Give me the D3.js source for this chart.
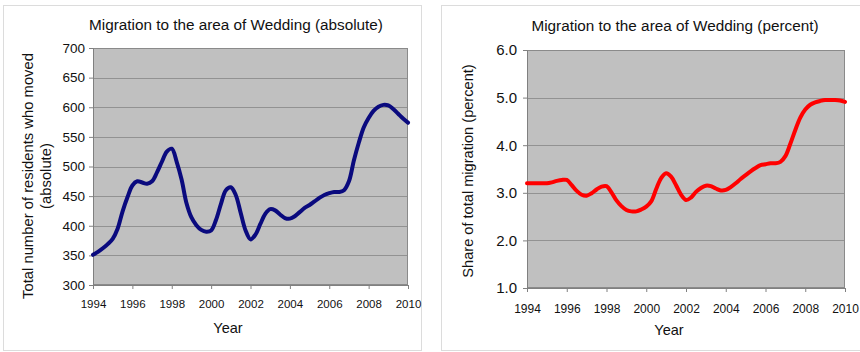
<!DOCTYPE html>
<html>
<head>
<meta charset="utf-8">
<script src="https://cdn.jsdelivr.net/npm/d3@7/dist/d3.min.js"></script>
<style>
  html, body { margin: 0; padding: 0; background: #fff; }
  svg { display: block; font-family: "Liberation Sans", Arial, sans-serif; }
</style>
</head>
<body>
<svg id="chart" width="860" height="352"></svg>
<script>
// Quarter-year sample points, 1994 to 2010
const years = d3.range(0, 65).map(i => 1994 + i * 0.25);

// Number of residents who moved into Wedding (absolute)
const movedAbsolute = [
  351, 356, 362, 369, 378, 395, 424, 448,
  468, 475, 473, 471, 475, 490, 508, 525,
  530, 508, 478, 438, 414, 401, 393, 390,
  392, 410, 437, 460, 465, 452, 422, 392,
  377, 385, 403, 420, 428, 426, 419, 413,
  412, 416, 423, 430, 435, 441, 447, 452,
  455, 457, 457, 460, 475, 510, 540, 566,
  582, 594, 601, 604, 603, 597, 589, 581,
  574
];

// Share of total migration (percent)
const movedPercent = [
  3.20, 3.20, 3.20, 3.20, 3.20, 3.22, 3.25, 3.27,
  3.27, 3.16, 3.04, 2.96, 2.94, 2.99, 3.07, 3.13,
  3.14, 3.01, 2.84, 2.72, 2.64, 2.61, 2.61, 2.65,
  2.71, 2.82, 3.08, 3.31, 3.41, 3.34, 3.16, 2.96,
  2.85, 2.90, 3.02, 3.10, 3.15, 3.14, 3.09, 3.05,
  3.06, 3.12, 3.20, 3.29, 3.37, 3.45, 3.52, 3.58,
  3.60, 3.62, 3.62, 3.65, 3.77, 4.03, 4.32, 4.58,
  4.75, 4.85, 4.90, 4.93, 4.95, 4.95, 4.95, 4.94,
  4.91
];

const xTicks = d3.range(1994, 2011, 2);
const absTicks = [300, 350, 400, 450, 500, 550, 600, 650, 700];
const pctTicks = [1.0, 2.0, 3.0, 4.0, 5.0, 6.0];

const svg = d3.select("#chart");
const FONT = '"Liberation Sans", Arial, sans-serif';

function drawPanel(cfg) {
  const g = svg.append("g");

  // panel frame
  g.append("rect")
    .attr("x", cfg.frame[0] + 0.5).attr("y", cfg.frame[1] + 0.5)
    .attr("width", cfg.frame[2]).attr("height", cfg.frame[3])
    .attr("fill", "#fff").attr("stroke", "#dcdcdc");

  const x = d3.scaleLinear().domain([1994, 2010]).range([cfg.left, cfg.right]);
  const y = d3.scaleLinear().domain(cfg.yDomain).range([cfg.bottom, cfg.top]);

  // plot area
  g.append("rect")
    .attr("x", cfg.left).attr("y", cfg.top)
    .attr("width", cfg.right - cfg.left).attr("height", cfg.bottom - cfg.top)
    .attr("fill", "#c0c0c0");

  // horizontal gridlines
  g.append("g").selectAll("line")
    .data(cfg.yTicks.slice(1, -1))
    .join("line")
    .attr("x1", cfg.left).attr("x2", cfg.right)
    .attr("y1", d => Math.round(y(d)) + 0.5).attr("y2", d => Math.round(y(d)) + 0.5)
    .attr("stroke", "#929292").attr("stroke-width", 1);

  // plot border
  g.append("rect")
    .attr("x", cfg.left + 0.5).attr("y", cfg.top + 0.5)
    .attr("width", cfg.right - cfg.left - 1).attr("height", cfg.bottom - cfg.top - 1)
    .attr("fill", "none").attr("stroke", "#8a8a8a");

  // x axis
  const xAxis = d3.axisBottom(x).tickValues(xTicks).tickFormat(d3.format("d"))
    .tickSize(4).tickPadding(cfg.xPad);
  const xa = g.append("g").attr("transform", `translate(0,${cfg.bottom})`).call(xAxis);
  xa.select(".domain").attr("stroke", "#808080");
  xa.selectAll(".tick line").attr("stroke", "#808080");
  xa.selectAll(".tick text").attr("fill", "#111")
    .style("font-size", cfg.xFont + "px").style("font-family", FONT);

  // y axis
  const yAxis = d3.axisLeft(y).tickValues(cfg.yTicks).tickFormat(cfg.yFormat)
    .tickSize(4).tickPadding(cfg.yPad);
  const ya = g.append("g").attr("transform", `translate(${cfg.left},0)`).call(yAxis);
  ya.select(".domain").attr("stroke", "#808080");
  ya.selectAll(".tick line").attr("stroke", "#808080");
  ya.selectAll(".tick text").attr("fill", "#111")
    .style("font-size", cfg.yFont + "px").style("font-family", FONT);

  // data line
  const line = d3.line()
    .x((d, i) => x(years[i]))
    .y(d => y(d))
    .curve(d3.curveCatmullRom.alpha(0.5));
  g.append("path")
    .datum(cfg.values)
    .attr("d", line)
    .attr("fill", "none")
    .attr("stroke", cfg.color)
    .attr("stroke-width", 4)
    .attr("stroke-linejoin", "round")
    .attr("stroke-linecap", "round");

  // chart title
  g.append("text")
    .attr("x", cfg.titleX).attr("y", cfg.titleY)
    .attr("text-anchor", "middle")
    .attr("fill", "#111").style("font-size", "15.3px")
    .text(cfg.title);

  // x axis title
  g.append("text")
    .attr("x", cfg.xTitleX).attr("y", cfg.xTitleY)
    .attr("text-anchor", "middle")
    .attr("fill", "#111").style("font-size", "14.5px")
    .text("Year");

  // y axis title (one or more lines)
  cfg.yTitle.forEach((t, i) => {
    g.append("text")
      .attr("transform", `translate(${cfg.yTitleX[i]},${cfg.yTitleY}) rotate(-90)`)
      .attr("text-anchor", "middle")
      .attr("fill", "#111").style("font-size", cfg.yTitleFont + "px")
      .text(t);
  });
}

drawPanel({
  frame: [3, 5, 418, 345],
  left: 93, right: 408, top: 48, bottom: 285,
  yDomain: [300, 700], yTicks: absTicks, yFormat: d3.format("d"),
  values: movedAbsolute, color: "#0a0a7e",
  xFont: 11.5, yFont: 13.5, xPad: 11, yPad: 4,
  title: "Migration to the area of Wedding (absolute)", titleX: 236, titleY: 30,
  xTitleX: 228, xTitleY: 333,
  yTitle: ["Total number of residents who moved", "(absolute)"], yTitleFont: 14.8,
  yTitleX: [33, 51], yTitleY: 176
});

drawPanel({
  frame: [441, 5, 420, 345],
  left: 527, right: 845, top: 50, bottom: 288,
  yDomain: [1, 6], yTicks: pctTicks, yFormat: d3.format(".1f"),
  values: movedPercent, color: "#ff0000",
  xFont: 12, yFont: 15, xPad: 12, yPad: 6,
  title: "Migration to the area of Wedding (percent)", titleX: 675, titleY: 31,
  xTitleX: 669, xTitleY: 335,
  yTitle: ["Share of total migration (percent)"], yTitleFont: 14.6,
  yTitleX: [473], yTitleY: 171
});
</script>
</body>
</html>
